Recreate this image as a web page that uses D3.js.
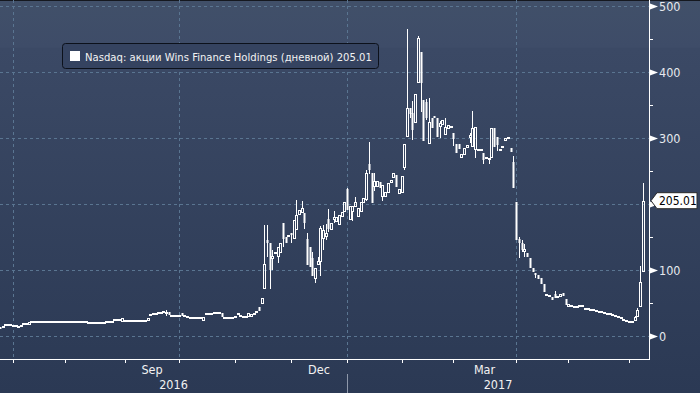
<!DOCTYPE html>
<html>
<head>
<meta charset="utf-8">
<script src="https://cdn.jsdelivr.net/npm/d3@7"></script>
<style>
  body { margin: 0; background: #2c3a55; overflow: hidden; }
  svg { display: block; }
  text { font-family: "DejaVu Sans Condensed", "DejaVu Sans", sans-serif; }
</style>
</head>
<body>
<div class="chart"></div>
<script>
const width = 700, height = 393;
const plot = { left: 0, right: 649, top: 0, bottom: 359 };

// trading calendar
const firstDay = "2016-06-24", lastDay = "2017-06-08";
const holidays = ["2016-07-04", "2016-09-05", "2016-11-24", "2016-12-26", "2017-01-02",
  "2017-01-16", "2017-02-20", "2017-04-14", "2017-05-29"];

const _ = null; // no wick beyond the body

const opens = [
  13, 13, 17, 17, 17, 15.5, 15, 14, 14, 18,
  18, 17, 21, 21, 21, 21, 21, 21, 21, 21,
  21, 21, 21, 21, 21, 21, 21, 21, 21, 20.5,
  21, 21, 21, 21, 20, 20, 20, 20, 20, 20,
  20, 21.5, 21.5, 21.5, 24, 24, 24, 21, 23, 23,
  23, 23, 23, 23, 23, 23, 23, 22, 32, 33,
  34, 35, 35, 36, 36, 37, 30, 30, 30, 31,
  35, 31, 28, 28, 28, 28, 27, 27, 23, 33,
  33, 33, 35, 35, 35, 35, 28, 28, 28, 28,
  28, 33, 31, 29, 29, 29, 29, 33, 35, 44,
  48, 71, 145, 141, 117, 124, 120, 126, 171, 150,
  150, 156, 147, 161, 183, 186, 186, 147, 135, 118,
  86, 108, 112, 147, 150, 178, 161, 176, 173, 168,
  180, 188, 223, 176, 188, 195, 180, 188, 202, 206,
  261, 247, 226, 226, 233, 211, 211, 217, 232, 239,
  244, 215, 217, 255, 302, 345, 338, 323, 383, 430,
  358, 355, 291, 330, 333, 330, 317, 320, 305, 314,
  317, 307, 291, 291, 270, 274, 285, 300, 286, 282,
  282, 282, 277, 270, 267, 270, 315, 302, 282, 286,
  295, 300, 285, 264, 203, 147, 141, 128, 126, 118,
  103, 96, 92, 88, 79, 62, 60, 59, 64, 59,
  59, 65, 56, 44, 45, 44, 44, 44, 45, 41,
  41, 40, 39, 38, 37, 36, 35, 34, 34, 32,
  31, 29, 27, 25, 22, 21, 21, 23, 29, 44, 97
];

const closes = [
  12.5, 13, 17, 17, 17, 15.5, 15, 14, 17, 18,
  18, 21, 21, 21, 21, 21, 21, 21, 21, 22.5,
  21, 21, 21, 21, 21, 21, 21, 21, 21, 20.5,
  21, 21, 21, 21, 20, 20, 20, 20, 20, 20,
  20, 21.5, 21.5, 21.5, 24, 24, 24, 27, 23, 23,
  23, 23, 23, 23, 23, 23, 23, 28, 33, 33,
  34, 35, 35, 36, 37, 32, 30, 30, 30, 31,
  30, 31, 31, 28, 28, 28, 27, 27, 29, 33,
  33, 33, 35, 35, 35, 29, 28, 28, 28, 28,
  31, 33, 31, 29, 29, 35, 33, 33, 38, 38,
  57, 109, 141, 100, 121, 127, 135, 141, 147, 141,
  153, 153, 176, 183, 191, 194, 171, 108, 104, 91,
  103, 114, 164, 161, 156, 162, 171, 180, 180, 183,
  188, 203, 191, 197, 197, 203, 194, 203, 209, 247,
  252, 202, 235, 235, 224, 229, 218, 232, 237, 247,
  226, 223, 242, 291, 345, 336, 312, 367, 452, 383,
  295, 330, 324, 315, 332, 302, 322, 327, 317, 320,
  317, 298, 277, 284, 276, 285, 290, 305, 315, 317,
  282, 282, 267, 270, 270, 315, 286, 289, 282, 286,
  300, 300, 279, 224, 145, 141, 131, 132, 120, 103,
  97, 95, 86, 79, 67, 62, 60, 55, 58, 59,
  64, 61, 47, 48, 45, 44, 44, 47, 45, 41,
  41, 40, 39, 38, 37, 36, 35, 34, 34, 32,
  31, 29, 27, 25, 22, 21, 21, 29, 39, 82, 205.01
];

const highs = [
  _, _, _, _, _, _, _, _, _, _,
  _, _, _, _, _, _, _, _, _, _,
  _, _, _, _, _, _, _, _, _, _,
  _, _, _, _, _, _, _, _, _, _,
  _, _, _, _, _, _, _, _, _, _,
  _, _, _, _, _, _, _, _, _, _,
  _, _, _, _, 39, _, _, _, _, _,
  _, _, _, _, _, _, _, _, _, _,
  _, _, _, _, _, _, _, _, _, _,
  _, _, _, _, _, _, _, _, _, _,
  _, 168, 168, _, 130, _, _, _, _, _,
  _, _, _, 206, _, 205, _, 156, _, 127,
  _, 120, 166, 168, 170, 192, _, 189, _, _,
  _, _, 225, _, _, 210, _, _, _, 252,
  294, _, 247, _, _, _, _, _, _, _,
  _, _, _, _, 465, _, 356, _, 455, _,
  _, 359, 361, _, _, _, 326, _, 330, _,
  _, _, _, _, _, _, _, 308, 341, _,
  _, _, _, _, _, _, _, _, _, _,
  _, _, _, 273, _, 150, 145, 140, _, _,
  _, _, _, _, _, _, _, _, 68, _,
  _, _, _, _, _, _, _, _, _, _,
  _, _, _, _, _, _, _, _, _, _,
  _, _, _, _, _, _, _, 31, 42, 106, 232
];

const lows = [
  _, _, _, _, _, _, _, _, _, _,
  _, _, _, _, _, _, _, _, _, _,
  _, _, _, _, _, _, _, _, _, _,
  _, _, _, _, _, _, _, _, _, _,
  _, _, _, _, _, _, _, _, _, _,
  _, _, _, _, _, _, _, _, _, _,
  _, _, _, _, 30, _, _, _, _, _,
  _, _, _, _, _, _, _, _, _, _,
  _, _, _, _, _, _, _, _, _, _,
  _, _, _, _, _, _, _, _, _, _,
  _, _, 120, 71, 100, _, 111, _, 135, _,
  _, 141, _, _, _, _, 162, _, _, _,
  80, _, 91, 130, 145, 158, _, 171, _, _,
  _, _, _, _, 174, _, _, _, _, 205,
  245, _, 220, _, _, 205, _, _, _, _,
  _, _, _, 252, _, 330, 297, _, _, 339,
  _, 327, _, _, _, _, 300, _, _, _,
  _, 288, _, _, _, _, _, 293, _, 270,
  _, _, 261, _, 261, _, _, 280, _, _,
  _, _, _, _, _, 118, 127, 120, _, _,
  _, 88, _, _, _, _, _, _, _, _,
  _, _, _, _, _, _, _, _, _, _,
  _, _, _, _, _, _, _, _, _, _,
  _, _, _, _, _, _, _, _, _, _, _
];

const yTicks = [0, 100, 200, 300, 400, 500];
const yMinorTicks = d3.range(0, 501, 50);
const quarterStarts = ["2016-07-01", "2016-10-01", "2017-01-01", "2017-04-01", "2017-06-01"];
const quarterPx = [13, 179, 347, 516, 629];
const monthLabels = [["Sep", "2016-09-01", "2016-10-01"], ["Dec", "2016-12-01", "2017-01-01"], ["Mar", "2017-03-01", "2017-04-01"]];
const yearLabels = ["2016", "2017"];
const lastPrice = 205.01;
const seriesName = "Nasdaq: акции Wins Finance Holdings (дневной)";

const fmt = d3.timeFormat("%Y-%m-%d");
const days = [];
for (let d = new Date(firstDay + "T12:00:00"); fmt(d) <= lastDay; d.setDate(d.getDate() + 1)) {
  if (d.getDay() > 0 && d.getDay() < 6 && !holidays.includes(fmt(d))) days.push(new Date(d));
}
const idxOf = s => days.findIndex(d => fmt(d) >= s);

const candles = days.map((date, i) => ({
  date, i, o: opens[i], c: closes[i],
  h: highs[i] ?? Math.max(opens[i], closes[i]),
  l: lows[i] ?? Math.min(opens[i], closes[i])
}));

const svg = d3.select(".chart").append("svg")
  .attr("width", width).attr("height", height);

const grad = svg.append("defs").append("linearGradient")
  .attr("id", "bg").attr("x1", 0).attr("y1", 0).attr("x2", 0).attr("y2", 1);
grad.append("stop").attr("offset", "0%").attr("stop-color", "#415069");
grad.append("stop").attr("offset", "12%").attr("stop-color", "#3e4c68");
grad.append("stop").attr("offset", "12.3%").attr("stop-color", "#3b4965");
grad.append("stop").attr("offset", "100%").attr("stop-color", "#2b3954");

svg.append("rect").attr("width", width).attr("height", height).attr("fill", "url(#bg)");
svg.append("rect").attr("width", width).attr("height", 1).attr("fill", "#15181f");

const x = d3.scaleLinear()
  .domain(quarterStarts.map(idxOf))
  .rangeRound(quarterPx);

const y = d3.scaleLinear().domain([0, 500]).range([336, 6]);

// grid
const grid = svg.append("g").attr("stroke", "#5a7591").attr("stroke-dasharray", "3,3");
grid.selectAll(".hgrid").data(yTicks).join("line")
  .attr("x1", plot.left).attr("x2", plot.right)
  .attr("y1", d => y(d) + 0.5).attr("y2", d => y(d) + 0.5);
grid.selectAll(".vgrid").data(quarterStarts.slice(0, 4)).join("line")
  .attr("x1", d => x(idxOf(d)) + 0.5).attr("x2", d => x(idxOf(d)) + 0.5)
  .attr("y1", plot.top).attr("y2", plot.bottom);

// candles
const gc = svg.append("g");
const cx = d => x(d.i);
gc.selectAll(".wick").data(candles.filter(d => d.h > Math.max(d.o, d.c) || d.l < Math.min(d.o, d.c)))
  .join("path")
  .attr("fill", "none").attr("stroke", "#fff")
  .attr("d", d => {
    const px = cx(d) + 0.5;
    return `M${px},${Math.round(y(d.h))}V${Math.round(y(Math.max(d.o, d.c)))}` +
      `M${px},${Math.round(y(Math.min(d.o, d.c)))}V${Math.round(y(d.l))}`;
  });

gc.selectAll(".up").data(candles.filter(d => d.c > d.o)).join("rect")
  .attr("fill", "none").attr("stroke", "#fff")
  .attr("x", d => cx(d) - 0.5).attr("width", 2)
  .attr("y", d => Math.round(y(d.c)) + 0.5)
  .attr("height", d => Math.max(1, Math.round(y(d.o)) - Math.round(y(d.c)) - 1));

gc.selectAll(".down").data(candles.filter(d => d.c <= d.o)).join("rect")
  .attr("fill", "#fff")
  .attr("x", d => d.c === d.o ? cx(d) - 1 : cx(d) - 0.5)
  .attr("width", d => d.c === d.o ? 3 : 2)
  .attr("y", d => Math.round(y(d.o)) - (d.c === d.o ? 1 : 0))
  .attr("height", d => Math.max(2, Math.round(y(d.c)) - Math.round(y(d.o))));

// x axis
const monthStarts = d3.timeMonth.range(new Date(2016, 6, 1), new Date(2017, 6, 1)).map(fmt);
const xAxis = d3.axisBottom(x).tickValues(monthStarts.map(idxOf)).tickSize(4).tickFormat("");
const gx = svg.append("g").attr("transform", `translate(0,${plot.bottom})`).call(xAxis);
gx.select(".domain").remove();
gx.selectAll(".tick line").attr("stroke", "#fff");
svg.append("line").attr("x1", plot.left).attr("x2", plot.right + 1)
  .attr("y1", plot.bottom + 0.5).attr("y2", plot.bottom + 0.5).attr("stroke", "#fff");

svg.selectAll(".month").data(monthLabels).join("text")
  .attr("x", d => (x(idxOf(d[1])) + x(idxOf(d[2]))) / 2)
  .attr("y", 374).attr("text-anchor", "middle")
  .attr("fill", "#f2f2f2").attr("font-size", "12.5px")
  .text(d => d[0]);

const yearSplit = x(idxOf("2017-01-01"));
svg.selectAll(".year").data(yearLabels).join("text")
  .attr("x", (d, i) => i === 0 ? (plot.left + yearSplit) / 2 : (yearSplit + plot.right) / 2)
  .attr("y", 389).attr("text-anchor", "middle")
  .attr("fill", "#f2f2f2").attr("font-size", "12.5px")
  .text(d => d);
svg.append("line").attr("x1", yearSplit + 0.5).attr("x2", yearSplit + 0.5)
  .attr("y1", 374).attr("y2", height).attr("stroke", "#8e98aa");

// y axis
const yAxis = d3.axisRight(y).tickValues(yMinorTicks).tickSize(4).tickFormat("");
const gy = svg.append("g").attr("transform", `translate(${plot.right},0)`).call(yAxis);
gy.select(".domain").remove();
gy.selectAll(".tick line").attr("stroke", "#fff");
svg.append("line").attr("x1", plot.right + 0.5).attr("x2", plot.right + 0.5)
  .attr("y1", 0).attr("y2", plot.bottom + 1).attr("stroke", "#fff");

svg.selectAll(".ymark").data(yTicks).join("path")
  .attr("fill", "#fff")
  .attr("d", d => `M${plot.right + 1},${y(d) - 2.5}L${plot.right + 9},${y(d) + 0.5}L${plot.right + 1},${y(d) + 3.5}Z`);

// the last-price tag covers any tick label next to it
const ly = y(lastPrice);
svg.selectAll(".ylabel").data(yTicks.filter(d => Math.abs(y(d) - ly) > 14)).join("text")
  .attr("x", plot.right + 10).attr("y", d => y(d)).attr("dy", "0.36em")
  .attr("fill", "#e6e9ee").attr("font-size", "12.5px")
  .text(d => d);

// last price tag
svg.append("path").attr("fill", "#fff").attr("stroke", "#2a2a2a")
  .attr("d", `M651,${ly}L657,${ly - 8}H697V${ly + 8}H657Z`);
svg.append("text").attr("x", 659).attr("y", ly).attr("dy", "0.36em")
  .attr("fill", "#000").attr("font-size", "12px")
  .text(d3.format(".2f")(lastPrice));

// legend
const lg = svg.append("g").attr("transform", "translate(62,43)");
lg.append("rect").attr("x", 0.5).attr("y", 0.5).attr("width", 316).attr("height", 25).attr("rx", 3)
  .attr("fill", "#354360").attr("stroke", "#0c111b");
lg.append("rect").attr("x", 8).attr("y", 8).attr("width", 10).attr("height", 10).attr("fill", "#fff");
lg.append("text").attr("x", 23).attr("y", 17.5)
  .attr("fill", "#f2f2f2").attr("font-size", "11.2px")
  .text(`${seriesName}  ${d3.format(".2f")(lastPrice)}`);
</script>
</body>
</html>
